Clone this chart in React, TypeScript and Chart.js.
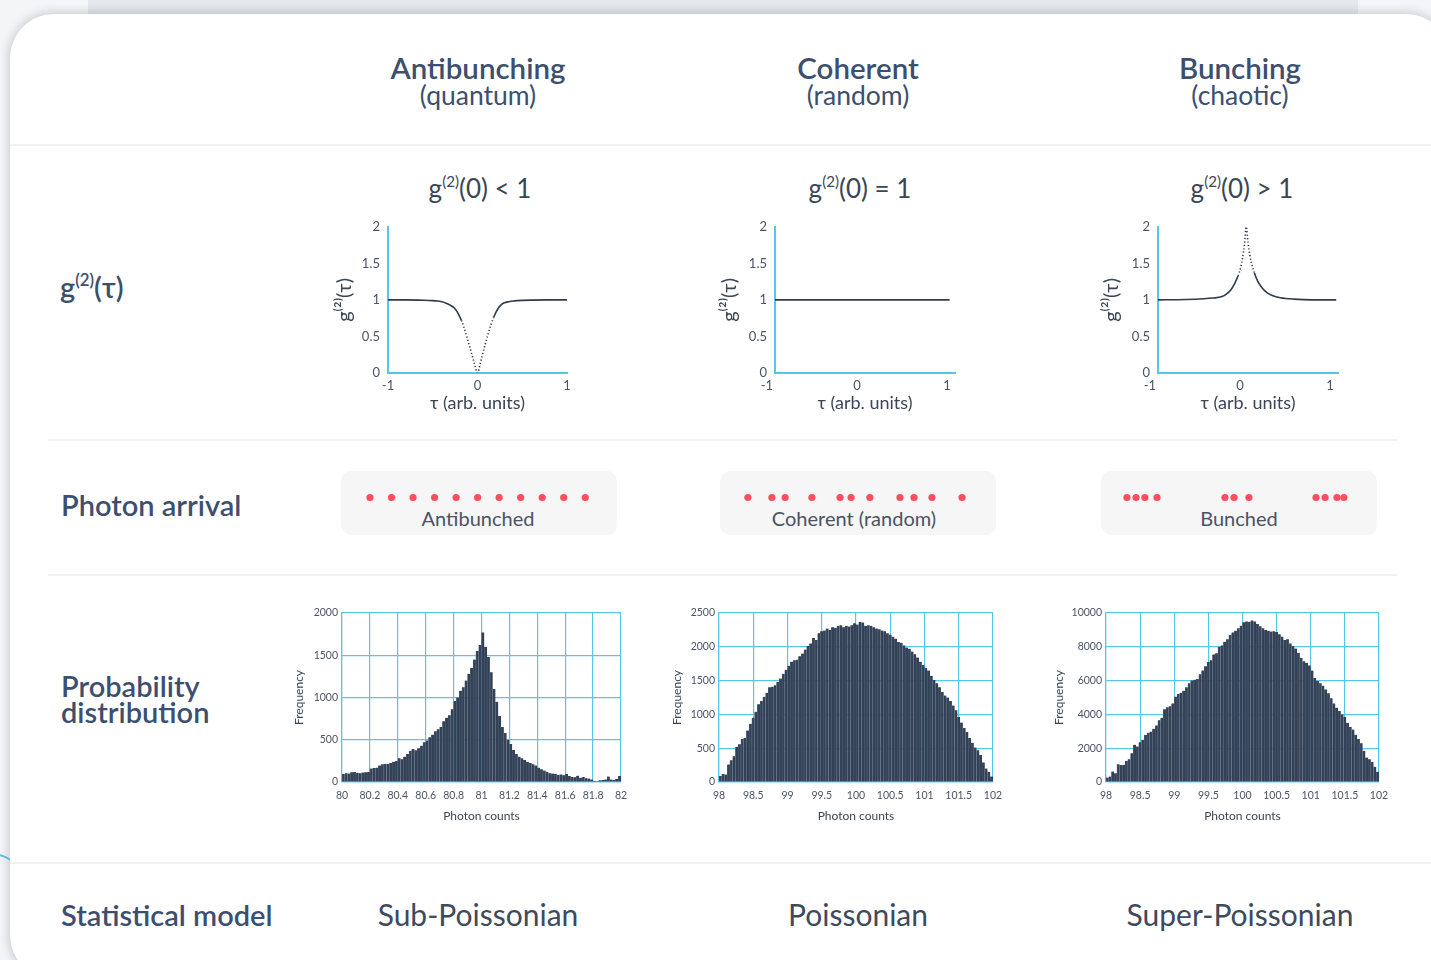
import React, { useEffect, useRef } from "react";
import { Chart, registerables } from "chart.js";

Chart.register(...registerables);

const FONT = "Lato, 'Open Sans', 'DejaVu Sans', sans-serif";
const HEAD = "#3d4f6f";
const TEXT = "#3a4657";
const TICK = "#4a5466";
const CYAN = "#55c7e7";
const BAR = "#334156";
const BAR_EDGE = "#55647a";
const LINE = "#2f3a4b";
const DOT = "#ff4d5e";

// ---------- text content ----------
const columnTitles = ["Antibunching", "Coherent", "Bunching"];
const columnSubtitles = ["(quantum)", "(random)", "(chaotic)"];
const g2Relations = ["<", "=", ">"];
const arrivalLabels = ["Antibunched", "Coherent (random)", "Bunched"];
const modelNames = ["Sub-Poissonian", "Poissonian", "Super-Poissonian"];

// ---------- g2(tau) curves ----------
const g2XTicks = [-1, 0, 1];
const g2YTicks = [0, 0.5, 1, 1.5, 2];

const antibunchTau = [-1, -0.8, -0.6, -0.5, -0.45, -0.4, -0.35, -0.3, -0.27, -0.24, -0.21, -0.18, -0.15, -0.12, -0.09, -0.06, -0.03, 0, 0.03, 0.06, 0.09, 0.12, 0.15, 0.18, 0.21, 0.24, 0.27, 0.3, 0.35, 0.4, 0.45, 0.5, 0.6, 0.8, 1];
const antibunchG2 = [1, 1, 0.995, 0.99, 0.985, 0.975, 0.955, 0.925, 0.9, 0.86, 0.8, 0.72, 0.62, 0.5, 0.37, 0.24, 0.11, 0, 0.13, 0.27, 0.41, 0.54, 0.66, 0.76, 0.84, 0.9, 0.94, 0.96, 0.975, 0.985, 0.99, 0.993, 0.997, 1, 1];

const coherentTau = [-0.91, 1.03];
const coherentG2 = [1, 1];

const bunchTau = [-0.91, -0.6, -0.4, -0.3, -0.2, -0.15, -0.1, -0.06, -0.02, 0.01, 0.03, 0.05, 0.07, 0.09, 0.11, 0.13, 0.16, 0.2, 0.25, 0.3, 0.36, 0.45, 0.6, 0.8, 1.07];
const bunchG2 = [1, 1.005, 1.015, 1.025, 1.045, 1.08, 1.14, 1.22, 1.33, 1.45, 1.58, 1.75, 2.0, 1.78, 1.62, 1.5, 1.37, 1.25, 1.16, 1.1, 1.06, 1.03, 1.01, 1, 1];

// ---------- photon arrival times (arb. time units, 0–100 window) ----------
const antibunchedArrivals = [10.5, 18.3, 26.1, 33.9, 41.7, 49.5, 57.3, 65.1, 72.9, 80.7, 88.5];
const coherentArrivals = [10.1, 18.8, 23.6, 33.3, 43.5, 47.5, 54.3, 65.2, 70.3, 76.8, 87.7];
const bunchedArrivals = [9.4, 12.7, 15.9, 20.3, 44.9, 48.2, 53.6, 77.9, 81.2, 85.5, 88.0];

// ---------- histograms ----------
const subBinStart = 80;
const subBinWidth = 0.02;
const subCounts = [
  95, 105, 100, 115, 118, 110, 105, 112, 115, 118,
  160, 165, 170, 195, 210, 212, 215, 225, 240, 250,
  280, 270, 300, 330, 370, 390, 375, 400, 430, 470,
  490, 530, 560, 600, 625, 650, 720, 760, 790, 860,
  960, 1000, 1080, 1120, 1200, 1280, 1350, 1450, 1550, 1620,
  1770, 1600, 1480, 1300, 1100, 950, 780, 650, 580, 500,
  450, 380, 330, 300, 280, 260, 240, 225, 210, 195,
  170, 150, 135, 120, 105, 100, 95, 85, 90, 80,
  95, 70, 60, 55, 75, 50, 60, 45, 40, 30,
  15, 10, 20, 25, 30, 65, 30, 25, 35, 70,
];
const subXTicks = [80, 80.2, 80.4, 80.6, 80.8, 81, 81.2, 81.4, 81.6, 81.8, 82];
const subYTicks = [0, 500, 1000, 1500, 2000];

const poisBinStart = 98;
const poisBinWidth = 0.04;
const poisCounts = [
  90, 120, 110, 260, 320, 380, 520, 560, 640, 650,
  760, 860, 950, 1040, 1150, 1200, 1260, 1320, 1400, 1410,
  1430, 1480, 1530, 1600, 1660, 1720, 1780, 1800, 1810, 1860,
  1900, 1960, 2010, 2050, 2130, 2100, 2200, 2230, 2240, 2270,
  2250, 2290, 2280, 2310, 2320, 2290, 2310, 2300, 2320, 2350,
  2330, 2370, 2360, 2310, 2320, 2310, 2290, 2270, 2260, 2240,
  2230, 2200, 2180, 2150, 2120, 2070, 2060, 2020, 1990, 1970,
  1930, 1890, 1840, 1780, 1730, 1690, 1650, 1570, 1510, 1460,
  1400, 1330, 1280, 1250, 1200, 1130, 1060, 960, 880, 800,
  740, 650, 580, 510, 470, 400, 290, 200, 150, 80,
];
const poisXTicks = [98, 98.5, 99, 99.5, 100, 100.5, 101, 101.5, 102];
const poisYTicks = [0, 500, 1000, 1500, 2000, 2500];

const superBinStart = 98;
const superBinWidth = 0.04;
const superCounts = [
  260, 320, 620, 520, 1050, 1000, 1020, 1260, 1340, 1700,
  2200, 2100, 2350, 2500, 2780, 2920, 2980, 3150, 3350, 3650,
  3800, 4300, 4420, 4480, 4650, 5050, 5200, 5280, 5400, 5600,
  5850, 6000, 6050, 6100, 6380, 6600, 6850, 7100, 7200, 7550,
  7620, 8000, 8080, 8300, 8450, 8700, 8850, 8950, 9100, 9250,
  9450, 9500, 9480, 9560, 9500, 9350, 9220, 9100, 9000, 8950,
  8900, 8920, 8880, 8750, 8600, 8400, 8450, 8200, 8050, 7900,
  7650, 7350, 7150, 7050, 6900, 6600, 6150, 5980, 5850, 5700,
  5480, 5250, 4950, 4650, 4400, 4200, 4000, 3850, 3500, 3250,
  3100, 2800, 2550, 2300, 1850, 1450, 1350, 1200, 900, 600,
];
const superXTicks = [98, 98.5, 99, 99.5, 100, 100.5, 101, 101.5, 102];
const superYTicks = [0, 2000, 4000, 6000, 8000, 10000];

// ---------- chart builders ----------
function g2Config(tau: number[], g2: number[], xMin: number, xMax: number, yAxisWidth: number) {
  return {
    type: "line",
    data: {
      datasets: [
        {
          data: tau.map((t, i) => ({ x: t, y: g2[i] })),
          borderColor: LINE,
          borderWidth: 1.6,
          pointRadius: 0,
          fill: false,
          cubicInterpolationMode: "monotone",
          segment: {
            borderDash: (ctx: any) => {
              const dy = ctx.p1.parsed.y - ctx.p0.parsed.y;
              const dx = ctx.p1.parsed.x - ctx.p0.parsed.x;
              return Math.abs(dy / dx) > 3.2 ? [1.2, 2.2] : undefined;
            },
          },
        },
      ],
    },
    options: {
      responsive: false,
      animation: false,
      events: [],
      plugins: { legend: { display: false }, tooltip: { enabled: false } },
      layout: { autoPadding: false, padding: { top: 0, right: 15, left: 0, bottom: 0 } },
      scales: {
        x: {
          type: "linear",
          min: xMin,
          max: xMax,
          grid: { display: false, drawTicks: false },
          border: { color: CYAN, width: 2 },
          ticks: { color: TICK, font: { family: FONT, size: 13 }, padding: 5, autoSkip: false, maxRotation: 0, callback: (v: any) => String(v) },
          afterBuildTicks: (s: any) => { s.ticks = g2XTicks.map((v) => ({ value: v })); },
          afterFit: (s: any) => { s.height = 47; },
          title: { display: true, text: "τ (arb. units)", color: TEXT, font: { family: FONT, size: 18 }, padding: { top: 0, bottom: 6 } },
        },
        y: {
          type: "linear",
          min: 0,
          max: 2,
          grid: { display: false, drawTicks: false },
          border: { color: CYAN, width: 2 },
          ticks: { color: TICK, font: { family: FONT, size: 13 }, padding: 8, autoSkip: false, callback: (v: any) => String(v) },
          afterBuildTicks: (s: any) => { s.ticks = g2YTicks.map((v) => ({ value: v })); },
          afterFit: (s: any) => { s.width = yAxisWidth; },
          title: { display: true, text: "g⁽²⁾(τ)", color: TEXT, font: { family: FONT, size: 20 }, padding: { top: 0, bottom: 0 } },
        },
      },
    },
  };
}

function histConfig(counts: number[], binStart: number, binWidth: number, xTicks: number[], yTicks: number[], yAxisWidth: number) {
  const xMin = xTicks[0];
  const xMax = xTicks[xTicks.length - 1];
  const yMax = yTicks[yTicks.length - 1];
  return {
    type: "bar",
    data: {
      datasets: [
        {
          data: counts.map((c, i) => ({ x: binStart + binWidth * (i + 0.5), y: c })),
          backgroundColor: BAR,
          borderColor: BAR_EDGE,
          borderWidth: { left: 0.6, right: 0, top: 0, bottom: 0 },
          borderSkipped: false,
          barPercentage: 1,
          categoryPercentage: 1,
        },
      ],
    },
    options: {
      responsive: false,
      animation: false,
      events: [],
      plugins: { legend: { display: false }, tooltip: { enabled: false } },
      layout: { autoPadding: false, padding: { top: 13, right: 18, left: 0, bottom: 0 } },
      scales: {
        x: {
          type: "linear",
          min: xMin,
          max: xMax,
          offset: false,
          z: 1,
          grid: { color: CYAN, lineWidth: 1.2, drawTicks: false, offset: false },
          border: { color: CYAN, width: 1.2 },
          ticks: { color: TICK, font: { family: FONT, size: 10.5 }, padding: 7, autoSkip: false, maxRotation: 0, callback: (v: any) => String(v) },
          afterBuildTicks: (s: any) => { s.ticks = xTicks.map((v) => ({ value: v })); },
          afterFit: (s: any) => { s.height = 48; },
          title: { display: true, text: "Photon counts", color: TEXT, font: { family: FONT, size: 12 }, padding: { top: 0, bottom: 6.8 } },
        },
        y: {
          type: "linear",
          min: 0,
          max: yMax,
          z: 1,
          grid: { color: CYAN, lineWidth: 1.2, drawTicks: false },
          border: { color: CYAN, width: 1.2 },
          ticks: { color: TICK, font: { family: FONT, size: 10.5 }, padding: 4, autoSkip: false, callback: (v: any) => String(v) },
          afterBuildTicks: (s: any) => { s.ticks = yTicks.map((v) => ({ value: v })); },
          afterFit: (s: any) => { s.width = yAxisWidth; },
          title: { display: true, text: "Frequency", color: TEXT, font: { family: FONT, size: 12 }, padding: { top: 0, bottom: 0 } },
        },
      },
    },
  };
}

function arrivalConfig(times: number[]) {
  return {
    type: "scatter",
    data: {
      datasets: [
        {
          data: times.map((t) => ({ x: t, y: 0 })),
          backgroundColor: DOT,
          borderWidth: 0,
          pointRadius: 3.6,
        },
      ],
    },
    options: {
      responsive: false,
      animation: false,
      events: [],
      plugins: { legend: { display: false }, tooltip: { enabled: false } },
      layout: { autoPadding: false, padding: 0 },
      scales: {
        x: { type: "linear", display: false, min: 0, max: 100 },
        y: { type: "linear", display: false, min: -1, max: 1 },
      },
    },
  };
}

function ChartCanvas({ left, top, width, height, make }: { left: number; top: number; width: number; height: number; make: () => any }) {
  const ref = useRef<HTMLCanvasElement | null>(null);
  useEffect(() => {
    const chart = new Chart(ref.current as HTMLCanvasElement, make());
    return () => chart.destroy();
  }, []);
  return (
    <canvas
      ref={ref}
      width={width}
      height={height}
      style={{ position: "absolute", left, top, width, height }}
    />
  );
}

function Txt({ x, y, size, weight = 400, color = HEAD, align = "center", children }: any) {
  return (
    <div
      style={{
        position: "absolute",
        left: x,
        top: y,
        transform: align === "center" ? "translate(-50%, -50%)" : "translate(0, -50%)",
        fontSize: size,
        fontWeight: weight,
        color,
        whiteSpace: "nowrap",
        lineHeight: 1,
        fontFamily: FONT,
      }}
    >
      {children}
    </div>
  );
}

const Sup = ({ children }: any) => (
  <sup style={{ fontSize: "0.58em", verticalAlign: "0.7em", lineHeight: 0 }}>{children}</sup>
);

function Sep({ y, x1, x2 }: { y: number; x1: number; x2: number }) {
  return <div style={{ position: "absolute", left: x1, top: y, width: x2 - x1, height: 2, background: "#f0f1f3" }} />;
}

const colX = [478, 858, 1240];
const boxX = [341, 720, 1101];
const boxLabelX = [478, 854, 1239];

export default function App() {
  const g2Charts = [
    { left: 333, width: 249, make: () => g2Config(antibunchTau, antibunchG2, -1, 1, 55) },
    { left: 718, width: 252, make: () => g2Config(coherentTau, coherentG2, -0.91, 1.09, 57) },
    { left: 1100, width: 253, make: () => g2Config(bunchTau, bunchG2, -0.91, 1.09, 58) },
  ];
  const hists = [
    { left: 292, width: 347, make: () => histConfig(subCounts, subBinStart, subBinWidth, subXTicks, subYTicks, 50) },
    { left: 670, width: 341, make: () => histConfig(poisCounts, poisBinStart, poisBinWidth, poisXTicks, poisYTicks, 49) },
    { left: 1052, width: 345, make: () => histConfig(superCounts, superBinStart, superBinWidth, superXTicks, superYTicks, 54) },
  ];
  const arrivals = [antibunchedArrivals, coherentArrivals, bunchedArrivals];

  return (
    <div style={{ position: "fixed", left: 0, top: 0, width: 1431, height: 960, overflow: "hidden", background: "#f4f5f7", fontFamily: FONT }}>
      {/* background decorations */}
      <div style={{ position: "absolute", left: 88, top: -20, width: 1270, height: 40, background: "linear-gradient(#eceef1, #e1e4e9)" }} />
      <div style={{ position: "absolute", left: -50, top: 853, width: 80, height: 80, borderRadius: "50%", borderTop: `2px solid ${CYAN}` }} />
      {/* card */}
      <div
        style={{
          position: "absolute",
          left: 10,
          top: 14,
          width: 1440,
          height: 965,
          borderRadius: 44,
          background: "#ffffff",
          boxShadow: "0 0 10px 2px rgba(55,65,90,0.22)",
        }}
      />

      {/* column headers */}
      {columnTitles.map((t, i) => (
        <React.Fragment key={t}>
          <Txt x={colX[i]} y={68} size={29.5} weight={600}>{t}</Txt>
          <Txt x={colX[i]} y={95} size={26.5}>{columnSubtitles[i]}</Txt>
        </React.Fragment>
      ))}

      <Sep y={144} x1={10} x2={1431} />
      <Sep y={439} x1={48} x2={1397} />
      <Sep y={574} x1={48} x2={1397} />
      <Sep y={862} x1={10} x2={1431} />

      {/* row labels */}
      <Txt x={60} y={286} size={29} weight={600} align="left">g<Sup>(2)</Sup>(τ)</Txt>
      <Txt x={61} y={504} size={29} weight={600} align="left">Photon arrival</Txt>
      <Txt x={61} y={685} size={29} weight={600} align="left">Probability</Txt>
      <Txt x={61} y={711} size={29} weight={600} align="left">distribution</Txt>
      <Txt x={61} y={914} size={29} weight={600} align="left">Statistical model</Txt>

      {/* g2 titles */}
      {g2Relations.map((r, i) => (
        <Txt key={r} x={colX[i] + 2} y={188} size={26} color={TEXT}>
          g<Sup>(2)</Sup>(0) {r} 1
        </Txt>
      ))}

      {/* g2 charts */}
      {g2Charts.map((c, i) => (
        <ChartCanvas key={"g" + i} left={c.left} top={211} width={c.width} height={209} make={c.make} />
      ))}

      {/* photon arrival boxes */}
      {arrivals.map((a, i) => (
        <React.Fragment key={"a" + i}>
          <div style={{ position: "absolute", left: boxX[i], top: 471, width: 276, height: 64, borderRadius: 10, background: "#f6f6f7" }} />
          <ChartCanvas left={boxX[i]} top={489} width={276} height={17} make={() => arrivalConfig(a)} />
          <Txt x={boxLabelX[i]} y={518} size={20} color="#4a5263">{arrivalLabels[i]}</Txt>
        </React.Fragment>
      ))}

      {/* histograms */}
      {hists.map((h, i) => (
        <ChartCanvas key={"h" + i} left={h.left} top={600} width={h.width} height={230} make={h.make} />
      ))}

      {/* statistical models */}
      {modelNames.map((m, i) => (
        <Txt key={m} x={colX[i]} y={914} size={30} color="#3e4a5e">{m}</Txt>
      ))}
    </div>
  );
}
